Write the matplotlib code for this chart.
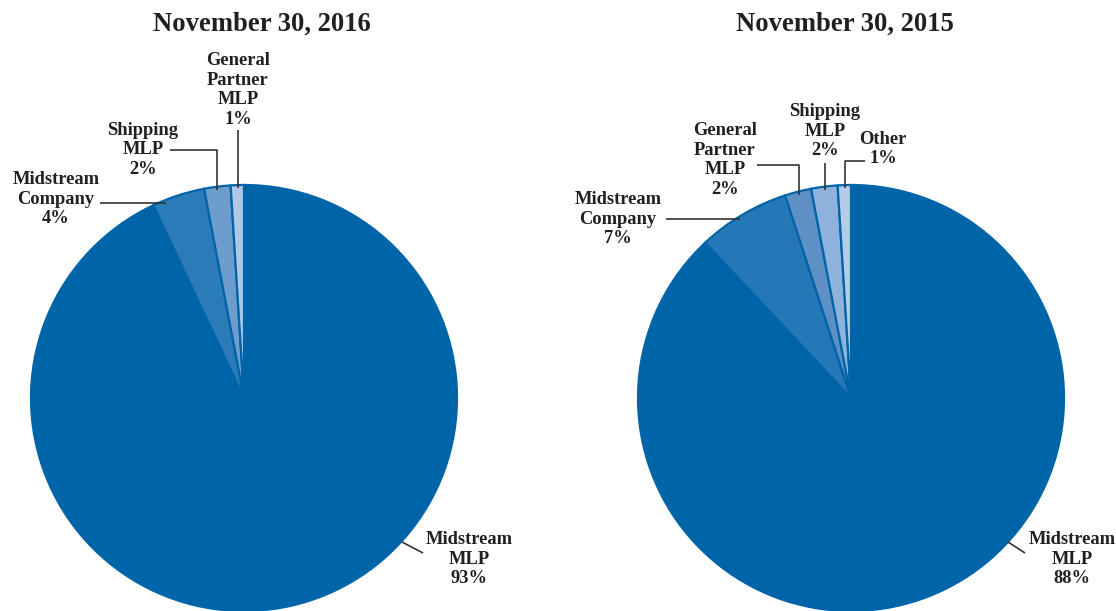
import matplotlib
matplotlib.use("Agg")
import matplotlib.pyplot as plt

# data
titles = ["November 30, 2016", "November 30, 2015"]
labels_2016 = ["Midstream\nMLP", "Midstream\nCompany", "Shipping\nMLP", "General\nPartner\nMLP"]
values_2016 = [93, 4, 2, 1]
labels_2015 = ["Midstream\nMLP", "Midstream\nCompany", "General\nPartner\nMLP", "Shipping\nMLP", "Other"]
values_2015 = [88, 7, 2, 2, 1]

colors_2016 = ["#0065a8", "#2b7bb9", "#6c9dcc", "#b0c8e6"]
colors_2015 = ["#0065a8", "#2677b8", "#5e90c5", "#8eb2dc", "#b5cce8"]

W, H = 1116, 611
txt_col = "#231f20"
font = dict(family="Liberation Serif", fontweight="bold", color=txt_col)

fig = plt.figure(figsize=(W / 100, H / 100), dpi=100)


def Y(y):
    # pixel-from-top -> axes units from bottom
    return H - y


def draw(left, cx, title, tx, values, labels, colors, lab_pos, leaders):
    ax = fig.add_axes([left / W, 0, 558 / W, 1])
    ax.pie(values, colors=colors, startangle=90, counterclock=False,
           center=(cx - left, Y(398)), radius=213,
           wedgeprops=dict(edgecolor="#0065a8", linewidth=1.6))
    ax.set_xlim(0, 558)
    ax.set_ylim(0, H)
    ax.set_aspect("equal")
    ax.axis("off")
    ax.text(tx - left, Y(24), title, ha="center", va="center", fontsize=19.2, **font)
    for lab, v, (x, y) in zip(labels, values, lab_pos):
        ax.text(x - left, Y(y), f"{lab}\n{v}%", ha="center", va="center",
                fontsize=13.3, linespacing=1.18, **font)
    for pts in leaders:
        xs = [p[0] - left for p in pts]
        ys = [Y(p[1]) for p in pts]
        ax.plot(xs, ys, color="#333333", lw=1.2, solid_capstyle="butt")


draw(0, 244, titles[0], 262, values_2016, labels_2016, colors_2016,
     [(469, 559), (56, 199), (143, 150), (238, 90)],
     [[(402, 542), (423, 553)],
      [(100, 203), (166, 203)],
      [(170, 150), (217, 150), (217, 190)],
      [(238, 130), (238, 188)]])

draw(558, 851, titles[1], 845, values_2015, labels_2015, colors_2015,
     [(1072, 559), (618, 219), (725, 160), (825, 131), (883, 149)],
     [[(1008, 542), (1025, 553)],
      [(666, 219), (740, 219)],
      [(757, 165), (799, 165), (799, 195)],
      [(825, 163), (825, 190)],
      [(865, 161), (845, 161), (845, 188)]])

fig.savefig("out.png", dpi=100)
